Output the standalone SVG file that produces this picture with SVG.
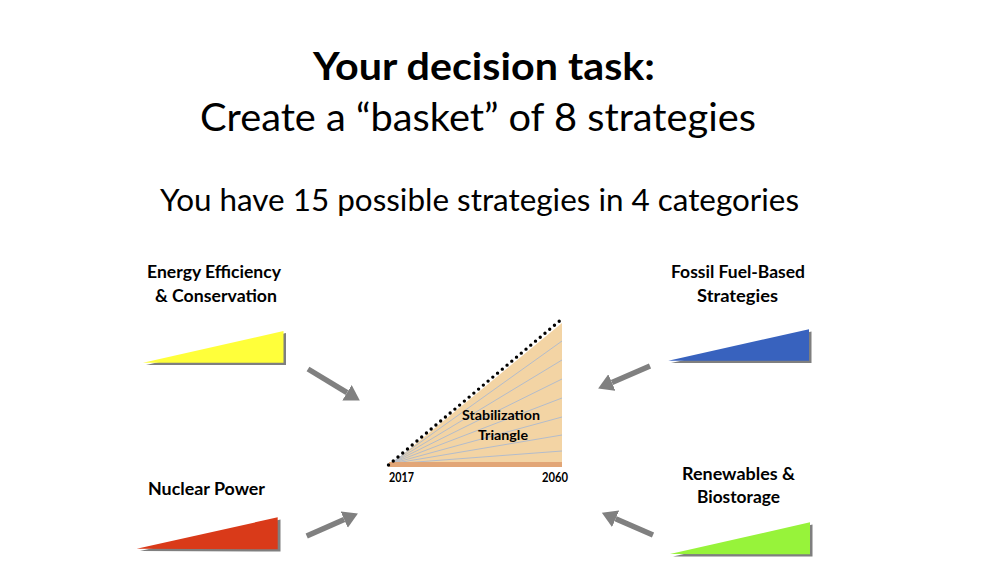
<svg xmlns="http://www.w3.org/2000/svg" width="999" height="571" viewBox="0 0 999 571">
  <style>
    text { font-family: Lato, "Open Sans", "Liberation Sans", sans-serif; fill: #000; text-anchor: middle; }
    .title { font-size: 38px; }
    .sub { font-size: 31px; }
    .lbl { font-size: 16.5px; font-weight: bold; }
    .mid { font-size: 13.5px; font-weight: bold; }
    .small { font-size: 12.5px; font-weight: bold; }
    .shadow { fill: #7f7f7f; }
    .fan { stroke: #b3bccb; stroke-width: 1; fill: none; }
    .arrow { stroke: #808080; stroke-width: 5.5; fill: none; marker-end: url(#head); }
  </style>
  <defs>
    <marker id="head" markerUnits="userSpaceOnUse" markerWidth="16" markerHeight="18" refX="0" refY="9" orient="auto">
      <path d="M0,0 L15,9 L0,18 Z" fill="#808080"/>
    </marker>
  </defs>
  <rect width="999" height="571" fill="#ffffff"/>

  <!-- headings -->
  <text class="title" x="484" y="80" font-weight="bold" textLength="342" lengthAdjust="spacingAndGlyphs">Your decision task:</text>
  <text class="title" x="478" y="131" textLength="556" lengthAdjust="spacingAndGlyphs">Create a “basket” of 8 strategies</text>
  <text class="sub" x="479.5" y="211" textLength="639" lengthAdjust="spacingAndGlyphs">You have 15 possible strategies in 4 categories</text>

  <!-- central stabilization triangle -->
  <g id="stabilization-triangle">
    <polygon points="390,465 562,323 562,466" fill="#f3d4a4"/>
    <g class="fan">
      <line x1="390" y1="464" x2="562" y2="341"/>
      <line x1="390" y1="464" x2="562" y2="360"/>
      <line x1="390" y1="464" x2="562" y2="379"/>
      <line x1="390" y1="464" x2="562" y2="398"/>
      <line x1="390" y1="464" x2="562" y2="417"/>
      <line x1="390" y1="464" x2="562" y2="435"/>
      <line x1="390" y1="464" x2="562" y2="451"/>
    </g>
    <rect x="389" y="462" width="173" height="5" fill="#e2a677"/>
    <line x1="388.5" y1="465" x2="563" y2="318" stroke="#000" stroke-width="3.4" stroke-linecap="round" stroke-dasharray="0 6.2"/>
    <text class="mid" x="501" y="420" textLength="78" lengthAdjust="spacingAndGlyphs">Stabilization</text>
    <text class="mid" x="503" y="440" textLength="50" lengthAdjust="spacingAndGlyphs">Triangle</text>
    <text class="small" x="401.5" y="482" textLength="25" lengthAdjust="spacingAndGlyphs">2017</text>
    <text class="small" x="555" y="482" textLength="26" lengthAdjust="spacingAndGlyphs">2060</text>
  </g>

  <!-- strategy wedges -->
  <g id="efficiency">
    <polygon class="shadow" points="146,365 286,333 286,365"/>
    <polygon points="143,362.7 283.5,331 283.5,362.7" fill="#ffff3a"/>
    <text class="lbl" x="214" y="278" textLength="134" lengthAdjust="spacingAndGlyphs">Energy Efficiency</text>
    <text class="lbl" x="216" y="302" textLength="122" lengthAdjust="spacingAndGlyphs">&amp; Conservation</text>
  </g>

  <g id="nuclear">
    <polygon class="shadow" points="140,551 280.5,519.5 280.5,551.5"/>
    <polygon points="136.7,548.7 277.7,517.3 277.7,549.3" fill="#d93a19"/>
    <text class="lbl" x="206.5" y="495" textLength="117" lengthAdjust="spacingAndGlyphs">Nuclear Power</text>
  </g>

  <g id="fossil">
    <polygon class="shadow" points="671,363 811.5,331.5 811.5,363"/>
    <polygon points="668.3,360.7 809,329.3 809,360.7" fill="#3862be"/>
    <text class="lbl" x="738" y="278" textLength="134" lengthAdjust="spacingAndGlyphs">Fossil Fuel-Based</text>
    <text class="lbl" x="737.5" y="302" textLength="81" lengthAdjust="spacingAndGlyphs">Strategies</text>
  </g>

  <g id="renewables">
    <polygon class="shadow" points="673,556.5 812.5,524.5 812.5,556.5"/>
    <polygon points="670,554 810,522.3 810,554.3" fill="#97f33a"/>
    <text class="lbl" x="738.5" y="480" textLength="113" lengthAdjust="spacingAndGlyphs">Renewables &amp;</text>
    <text class="lbl" x="738.5" y="503" textLength="83" lengthAdjust="spacingAndGlyphs">Biostorage</text>
  </g>

  <!-- arrows pointing to the triangle -->
  <g id="connectors">
    <path class="arrow" d="M308,369 L347,392.7"/>
    <path class="arrow" d="M306.7,536 L344.2,519.6"/>
    <path class="arrow" d="M650,366 L611.9,382.5"/>
    <path class="arrow" d="M653,535 L615.6,518.8"/>
  </g>
</svg>
